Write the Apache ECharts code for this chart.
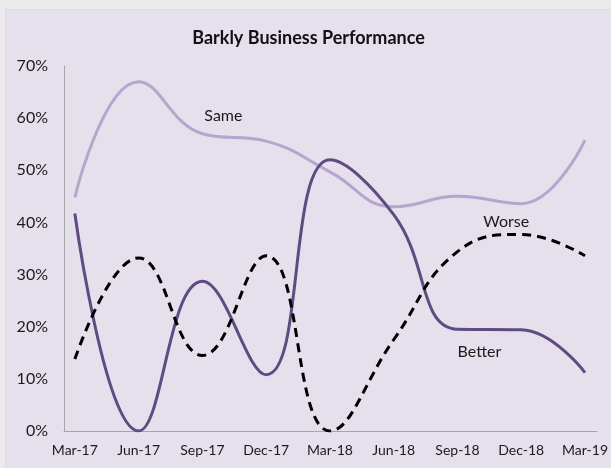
<!DOCTYPE html>
<html>
<head>
<meta charset="utf-8">
<script src="https://cdn.jsdelivr.net/npm/echarts@6/dist/echarts.min.js"></script>
<style>
html, body { margin: 0; padding: 0; background: #ebebeb; }
#chart {
    position: absolute;
    left: 5px;
    top: 9px;
    width: 606px;
    height: 459px;
    background: #e5e0ec;
    border-left: 1px solid #dcdcdc;
    border-top: 1px solid #dcdcdc;
    box-sizing: border-box;
}
</style>
</head>
<body>
<div id="chart"></div>
<script>
// quarters on the x axis
var categories = ['Mar-17', 'Jun-17', 'Sep-17', 'Dec-17', 'Mar-18', 'Jun-18', 'Sep-18', 'Dec-18', 'Mar-19'];
// shares in percent
var better = [41.7, 0, 28.7, 10.8, 52, 41.5, 19.5, 19.4, 11.2];
var same = [44.8, 67, 57, 55.6, 49.7, 43, 45, 43.6, 55.8];
var worse = [13.8, 33.2, 14.5, 33.6, 0, 17.5, 34.4, 37.7, 33.6];
var yTicks = [0, 10, 20, 30, 40, 50, 60, 70];

var chart = echarts.init(document.getElementById('chart'));

var font = 'Lato, "Open Sans", sans-serif';

// pair each value with its category index, put the series name on one point
function pairs(arr, labelAt, pos, offset, text) {
    return arr.map(function (v, i) {
        if (i === labelAt) {
            return {
                value: [i, v],
                label: { show: true, formatter: text, position: pos, offset: offset }
            };
        }
        return [i, v];
    });
}

var seriesLabel = { color: '#1a1a1a', fontSize: 16, fontFamily: font };

var option = {
    animation: false,
    textStyle: { fontFamily: font },
    title: {
        text: 'Barkly Business Performance',
        left: 'center',
        top: 14,
        textStyle: { fontSize: 18, fontWeight: 'bold', color: '#111', fontFamily: font }
    },
    grid: { left: 58, right: 13, top: 56, bottom: 37 },
    xAxis: {
        type: 'value',
        min: -0.17,
        max: 8.19,
        splitLine: { show: false },
        axisTick: { show: false },
        axisLine: { show: true, onZero: false, lineStyle: { color: '#a6a6a6', width: 1 } },
        axisLabel: {
            customValues: categories.map(function (c, i) { return i; }),
            formatter: function (v) { return categories[Math.round(v)]; },
            color: '#1a1a1a',
            fontSize: 14,
            margin: 12,
            fontFamily: font
        }
    },
    yAxis: {
        type: 'value',
        min: yTicks[0],
        max: yTicks[yTicks.length - 1],
        interval: 10,
        splitLine: { show: false },
        axisTick: { show: false },
        axisLine: { show: true, onZero: false, lineStyle: { color: '#a6a6a6', width: 1 } },
        axisLabel: {
            formatter: '{value}%',
            color: '#1a1a1a',
            fontSize: 16,
            margin: 16,
            fontFamily: font
        }
    },
    series: [{
        name: 'Same',
        type: 'line',
        smooth: 0.45,
        symbol: 'circle',
        symbolSize: 0,
        lineStyle: { color: '#b4a6cc', width: 3 },
        data: pairs(same, 2, 'top', [21, -5], 'Same'),
        label: seriesLabel,
        z: 2
    }, {
        name: 'Better',
        type: 'line',
        smooth: 0.45,
        symbol: 'circle',
        symbolSize: 0,
        lineStyle: { color: '#5f4b80', width: 3 },
        data: pairs(better, 6, 'bottom', [22, 10], 'Better'),
        label: seriesLabel,
        z: 3
    }, {
        name: 'Worse',
        type: 'line',
        smooth: 0.45,
        symbol: 'circle',
        symbolSize: 0,
        lineStyle: { color: '#000', width: 3, type: [9, 6] },
        data: pairs(worse, 7, 'top', [-15, 0], 'Worse'),
        label: seriesLabel,
        z: 4
    }]
};

chart.setOption(option);
</script>
</body>
</html>
